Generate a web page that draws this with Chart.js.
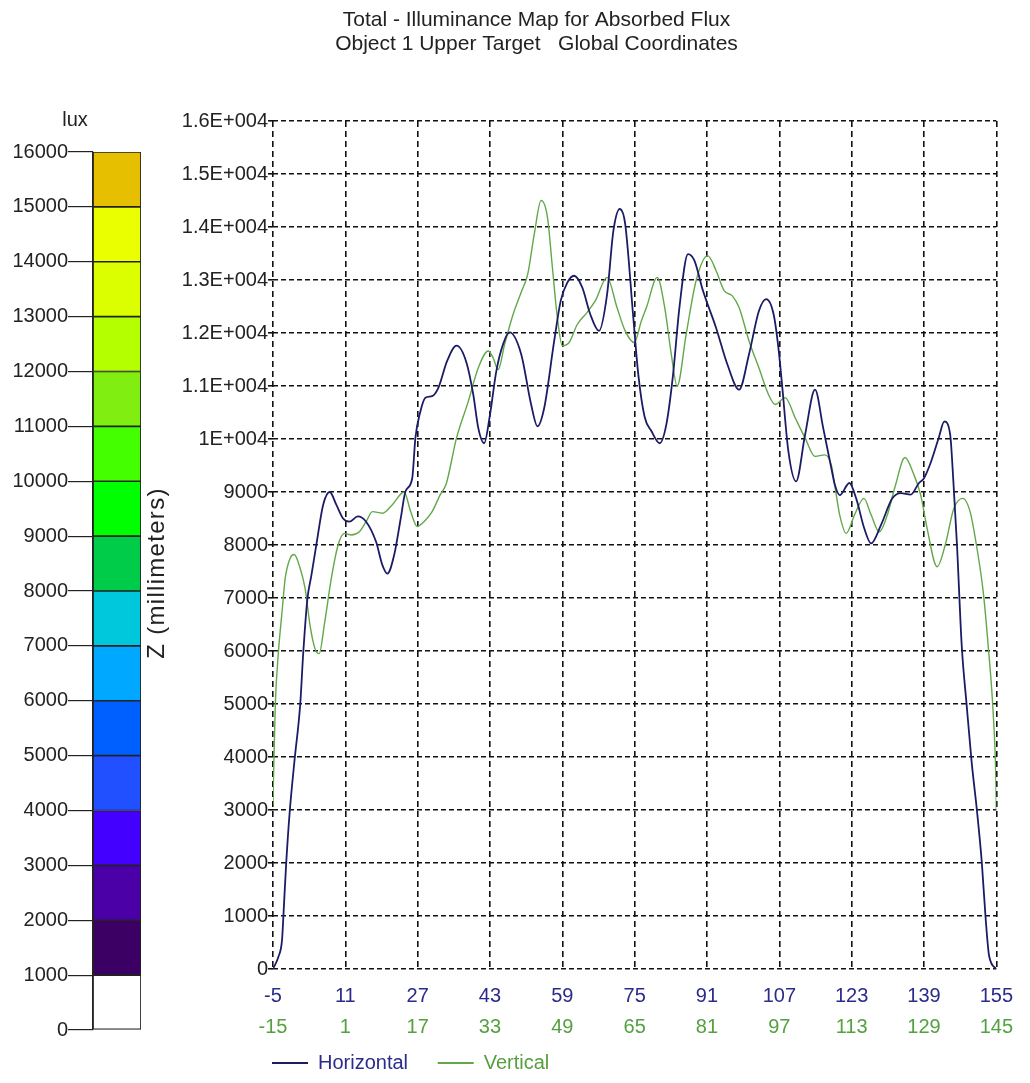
<!DOCTYPE html>
<html>
<head>
<meta charset="utf-8">
<script src="https://cdn.jsdelivr.net/npm/chart.js@4/dist/chart.umd.min.js"></script>
<style>
html,body{margin:0;padding:0;background:#fff;}
#wrap{position:relative;width:1030px;height:1083px;overflow:hidden;background:#fff;}
#bar{position:absolute;left:0;top:0;}
#main{position:absolute;left:70px;top:0;}
</style>
</head>
<body>
<div id="wrap">
<canvas id="bar" width="175" height="1083"></canvas>
<canvas id="main" width="960" height="1083"></canvas>
</div>
<script>
// ---------- data ----------
const titleLines = ['Total - Illuminance Map for Absorbed Flux', 'Object 1 Upper Target   Global Coordinates'];
const seriesNames = ['Horizontal', 'Vertical'];

// Horizontal profile (position on the blue axis, lux)
const horizX = [-5, -3.8, -3.0, -2.7, -2.1, -1.3, -0.2, 1.0, 1.7, 2.6, 3.5, 4.6, 6.1, 7.55, 9.0, 10.5, 11.9, 13.75, 15.6, 17.8, 19.2, 20.3, 21.8, 23.25, 24.3, 25.8, 26.5, 27.6, 28.7, 30.2, 31.6, 33.5, 35.6, 37.8, 39.3, 40.4, 41.7, 43.0, 44.4, 45.9, 47.35, 49.9, 52.1, 53.5, 55.0, 57.2, 58.65, 60.1, 61.6, 63.4, 65.2, 67.1, 68.9, 70.3, 71.7, 72.9, 74.7, 75.8, 77.2, 78.7, 80.55, 82.0, 83.5, 84.9, 86.8, 88.2, 90.1, 93.0, 95.5, 98.1, 100.3, 102.5, 104.1, 105.75, 106.8, 107.6, 109.0, 110.7, 112.7, 114.9, 116.7, 118.5, 119.3, 120.35, 122.5, 124.0, 125.8, 127.3, 129.5, 132.0, 133.9, 136.05, 137.9, 139.0, 140.6, 142.25, 143.5, 144.8, 145.5, 146.3, 147.35, 148.45, 149.55, 150.7, 151.8, 152.6, 153.4, 155];
const horizY = [0, 230, 550, 1000, 1970, 2970, 3970, 4970, 5980, 6975, 7430, 8010, 8760, 9000, 8760, 8500, 8440, 8540, 8440, 8060, 7620, 7460, 7810, 8500, 9010, 9260, 10020, 10520, 10780, 10810, 10970, 11470, 11760, 11440, 10840, 10210, 9920, 10460, 11280, 11790, 12010, 11600, 10650, 10240, 10590, 11850, 12610, 12950, 13080, 12860, 12350, 12040, 12730, 13930, 14340, 14060, 12290, 11220, 10420, 10150, 9920, 10270, 11220, 12480, 13490, 13370, 12800, 12100, 11410, 10930, 11600, 12420, 12640, 12350, 11720, 11030, 9770, 9200, 10080, 10930, 10210, 9450, 9130, 8940, 9170, 8880, 8310, 8030, 8380, 8880, 8980, 8950, 9170, 9260, 9580, 10020, 10330, 10080, 9200, 8000, 6100, 4970, 3900, 3000, 2000, 1000, 250, 0];

// Vertical profile (position on the green axis, lux)
const vertX = [-15, -14.9, -14.5, -13.8, -13.0, -12.3, -11.2, -10.3, -9.0, -7.9, -6.8, -5.7, -4.8, -3.55, -2.1, -0.6, 0.8, 2.3, 4.1, 5.6, 7.0, 9.2, 11.4, 14.0, 15.45, 16.9, 18.4, 20.2, 22.0, 23.3, 25.6, 28.2, 30.4, 32.6, 33.7, 34.8, 36.25, 38.1, 39.9, 41.35, 42.8, 44.3, 45.7, 46.8, 47.9, 49.0, 50.5, 52.3, 54.5, 56.3, 58.9, 61.1, 62.9, 64.9, 66.5, 67.6, 70.0, 71.65, 73.1, 74.4, 76.4, 78.6, 81.15, 83.0, 84.8, 86.6, 88.1, 90.3, 92.5, 94.6, 96.1, 98.3, 100.5, 102.7, 104.9, 107.05, 108.5, 109.4, 110.35, 111.8, 113.65, 115.7, 117.3, 119.1, 120.9, 122.6, 124.8, 126.8, 128.25, 129.7, 131.9, 133.7, 135.6, 137.6, 139.2, 140.6, 142.1, 143.2, 144.3, 144.9, 145];
const vertY = [3100, 3580, 4970, 5980, 6740, 7370, 7750, 7820, 7560, 7180, 6480, 6040, 5950, 6550, 7370, 8000, 8220, 8190, 8250, 8440, 8630, 8600, 8760, 9000, 8630, 8350, 8440, 8630, 8950, 9150, 10020, 10710, 11340, 11660, 11530, 11310, 11790, 12350, 12770, 13110, 13870, 14500, 14190, 13240, 12290, 11760, 11820, 12160, 12390, 12610, 13050, 12480, 12040, 11820, 12230, 12480, 13050, 12480, 11600, 11000, 11980, 12990, 13460, 13180, 12800, 12700, 12480, 11850, 11340, 10840, 10650, 10780, 10400, 10020, 9670, 9700, 9510, 9050, 8570, 8220, 8570, 8880, 8570, 8250, 8570, 9100, 9650, 9320, 8950, 8310, 7590, 8000, 8690, 8880, 8630, 8000, 7120, 6100, 4840, 3580, 3000];

// axis tick labels
const horizTicks = [-5, 11, 27, 43, 59, 75, 91, 107, 123, 139, 155];
const vertTicks = [-15, 1, 17, 33, 49, 65, 81, 97, 113, 129, 145];
const yTicks = [0, 1000, 2000, 3000, 4000, 5000, 6000, 7000, 8000, 9000, 10000, 11000, 12000, 13000, 14000, 15000, 16000];

// colour bar (lux levels and colours)
const barTitle = 'lux';
const barSideLabel = 'Z (millimeters)';
const barLevels = [0, 1000, 2000, 3000, 4000, 5000, 6000, 7000, 8000, 9000, 10000, 11000, 12000, 13000, 14000, 15000, 16000];
const barColors = ['#ffffff', '#3c0064', '#4a00a6', '#4400ff', '#2050ff', '#0060ff', '#00a8ff', '#00c8dc', '#00cc4a', '#00ff00', '#44ff00', '#80ee10', '#b4ff00', '#dcff00', '#eaff00', '#e6c000'];

// ---------- style ----------
const FONT = '"Liberation Sans", Arial, sans-serif';
const NAVY = '#1c1c66';
const NAVY_TXT = '#2b2b8c';
const GREEN = '#62a84a';
const GREEN_TXT = '#55a040';
const INK = '#222';
Chart.defaults.font.family = FONT;
Chart.defaults.color = INK;
Chart.defaults.animation = false;

// ---------- colour bar chart ----------
const sideLabelPlugin = {
  id: 'sideLabel',
  afterDraw(chart) {
    const ctx = chart.ctx;
    ctx.save();
    ctx.translate(157, 573);
    ctx.rotate(-Math.PI / 2);
    ctx.font = '24px ' + FONT;
    try { ctx.letterSpacing = '1.3px'; } catch (e) {}
    ctx.fillStyle = INK;
    ctx.textAlign = 'center';
    ctx.textBaseline = 'middle';
    ctx.fillText(barSideLabel, 0, 0);
    ctx.restore();
  }
};

new Chart(document.getElementById('bar'), {
  type: 'bar',
  data: {
    labels: [''],
    datasets: barColors.map((c, i) => ({
      data: [[barLevels[i], barLevels[i + 1]]],
      backgroundColor: c,
      borderColor: INK,
      borderWidth: 1.2,
      borderSkipped: false,
      barPercentage: 1,
      categoryPercentage: 1
    }))
  },
  options: {
    responsive: false,
    layout: { padding: { left: 9, right: 34, top: 0, bottom: 53 } },
    plugins: {
      legend: { display: false },
      tooltip: { enabled: false },
      title: { display: true, text: barTitle, color: INK, font: { size: 20, lineHeight: 1.0, weight: 'normal' }, padding: { top: 110, bottom: 22 } }
    },
    scales: {
      x: { display: false, stacked: true },
      y: {
        stacked: false, min: 0, max: 16000,
        afterFit: s => { s.width = 84; },
        afterBuildTicks: s => { s.ticks = barLevels.map(v => ({ value: v })); },
        ticks: { color: INK, font: { size: 20, lineHeight: 1.0 }, padding: 0, callback: v => String(v) },
        grid: { drawOnChartArea: false, drawTicks: true, tickLength: 25, color: INK, lineWidth: 1.2 },
        border: { display: true, color: INK, width: 1.2 }
      }
    }
  },
  plugins: [sideLabelPlugin]
});

// ---------- main profile chart ----------
const toPts = (xs, ys) => xs.map((x, i) => ({ x: x, y: ys[i] }));
const yLabel = v => v >= 10000 ? (+(v / 10000).toFixed(1)) + 'E+004' : String(v);

const legendShift = {
  id: 'legendShift',
  afterLayout(chart) {
    // start the legend row at the plot's left edge
    chart.legend.left = chart.chartArea.left - 14;
  }
};

new Chart(document.getElementById('main'), {
  type: 'line',
  data: {
    datasets: [
      { label: seriesNames[0], data: toPts(horizX, horizY), xAxisID: 'x', yAxisID: 'y',
        borderColor: NAVY, borderWidth: 1.8, pointRadius: 0, cubicInterpolationMode: 'monotone', fill: false },
      { label: seriesNames[1], data: toPts(vertX, vertY), xAxisID: 'x2', yAxisID: 'y',
        borderColor: GREEN, borderWidth: 1.4, pointRadius: 0, cubicInterpolationMode: 'monotone', fill: false }
    ]
  },
  options: {
    responsive: false,
    layout: { padding: { left: 0, right: 27, top: 0, bottom: 0 } },
    plugins: {
      tooltip: { enabled: false },
      title: { display: true, text: titleLines, color: INK, font: { size: 21, lineHeight: 1.15, weight: 'normal' }, padding: { top: 8, bottom: 64.7 } },
      legend: {
        display: true, position: 'bottom', align: 'start', fullSize: false,
        labels: {
          usePointStyle: true, pointStyle: 'line', pointStyleWidth: 36, padding: 13,
          font: { size: 20 },
          generateLabels: chart => chart.data.datasets.map((ds, i) => ({
            text: i === 0 ? ds.label + '   ' : ds.label, fontColor: i === 0 ? NAVY_TXT : GREEN_TXT,
            strokeStyle: ds.borderColor, fillStyle: ds.borderColor, lineWidth: 2,
            pointStyle: 'line', hidden: false, datasetIndex: i
          }))
        }
      }
    },
    scales: {
      x: {
        type: 'linear', position: 'bottom', min: -5, max: 155,
        afterBuildTicks: s => { s.ticks = horizTicks.map(v => ({ value: v })); },
        afterFit: s => { s.height = 37; },
        ticks: { color: NAVY_TXT, font: { size: 20, lineHeight: 1.0 }, padding: 17, autoSkip: false, maxRotation: 0 },
        grid: { display: true, drawTicks: false, color: '#111', lineWidth: 1.6 },
        border: { display: false, dash: [6, 4] }
      },
      x2: {
        type: 'linear', position: 'bottom', min: -15, max: 145,
        afterBuildTicks: s => { s.ticks = vertTicks.map(v => ({ value: v })); },
        afterFit: s => { s.height = 34; },
        ticks: { color: GREEN_TXT, font: { size: 20, lineHeight: 1.0 }, padding: 3, autoSkip: false, maxRotation: 0 },
        grid: { display: false },
        border: { display: false }
      },
      y: {
        type: 'linear', min: 0, max: 16000,
        afterFit: s => { s.width = 203; },
        afterBuildTicks: s => { s.ticks = yTicks.map(v => ({ value: v })); },
        ticks: { color: INK, font: { size: 20, lineHeight: 1.0 }, padding: 0, callback: yLabel },
        grid: { display: true, drawTicks: true, tickLength: 5, color: '#111', lineWidth: 1.6 },
        border: { display: false, dash: [5, 3] }
      }
    }
  },
  plugins: [legendShift]
});
</script>
</body>
</html>
